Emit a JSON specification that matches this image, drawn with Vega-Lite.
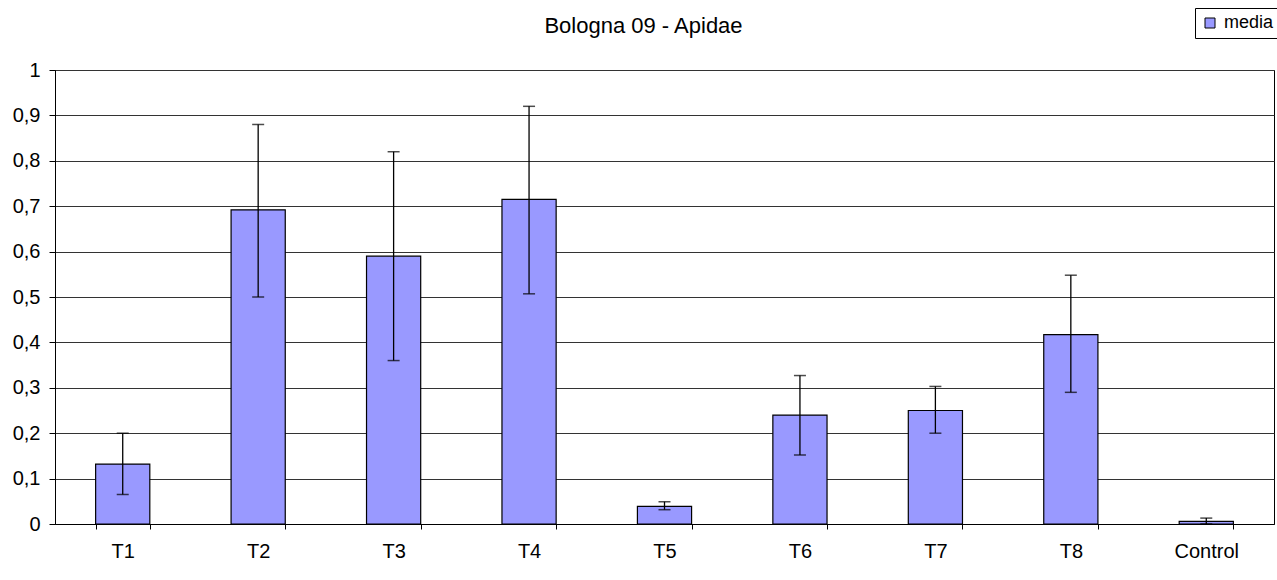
{
  "$schema": "https://vega.github.io/schema/vega-lite/v6.json",
  "width": 1219,
  "height": 454,
  "autosize": {"type": "none"},
  "padding": {"left": 55, "top": 70, "right": 3, "bottom": 56},
  "background": "white",
  "title": {
    "text": "Bologna 09 - Apidae",
    "font": "Liberation Sans",
    "fontSize": 22,
    "fontWeight": "normal",
    "color": "black",
    "anchor": "middle",
    "baseline": "alphabetic",
    "dx": -21,
    "dy": 47,
    "offset": 0
  },
  "config": {
    "view": {"stroke": "black", "strokeWidth": 1},
    "font": "Liberation Sans",
    "axis": {
      "labelFont": "Liberation Sans",
      "labelFontSize": 20,
      "labelColor": "black",
      "domainColor": "black",
      "tickColor": "black",
      "title": null
    }
  },
  "data": {
    "values": [
      {"cat": "T1", "media": 0.132, "lo": 0.065, "hi": 0.2, "serie": "media"},
      {"cat": "T2", "media": 0.692, "lo": 0.5, "hi": 0.88, "serie": "media"},
      {"cat": "T3", "media": 0.59, "lo": 0.36, "hi": 0.82, "serie": "media"},
      {"cat": "T4", "media": 0.715, "lo": 0.507, "hi": 0.92, "serie": "media"},
      {"cat": "T5", "media": 0.039, "lo": 0.0315, "hi": 0.049, "serie": "media"},
      {"cat": "T6", "media": 0.24, "lo": 0.152, "hi": 0.327, "serie": "media"},
      {"cat": "T7", "media": 0.25, "lo": 0.2, "hi": 0.303, "serie": "media"},
      {"cat": "T8", "media": 0.417, "lo": 0.29, "hi": 0.548, "serie": "media"},
      {"cat": "Control", "media": 0.006, "lo": 0.0, "hi": 0.013, "serie": "media"}
    ]
  },
  "encoding": {
    "x": {
      "field": "cat",
      "type": "nominal",
      "sort": null,
      "scale": {"paddingInner": 0.6, "paddingOuter": 0.3},
      "axis": {
        "labelAngle": 0,
        "tickBand": "extent",
        "tickSize": 5,
        "labelPadding": 12,
        "domainColor": "black",
        "grid": false
      }
    }
  },
  "layer": [
    {
      "mark": {"type": "bar", "stroke": "black", "strokeWidth": 1.2},
      "encoding": {
        "y": {
          "field": "media",
          "type": "quantitative",
          "scale": {"domain": [0, 1], "nice": false},
          "axis": {
            "values": [0, 0.1, 0.2, 0.3, 0.4, 0.5, 0.6, 0.7, 0.8, 0.9, 1],
            "labelExpr": "replace(format(datum.value, '~g'), '.', ',')",
            "tickSize": 6,
            "labelPadding": 9,
            "grid": true,
            "gridColor": "#333333",
            "gridWidth": 1
          }
        },
        "color": {
          "field": "serie",
          "type": "nominal",
          "scale": {"range": ["#9999FF"]},
          "legend": {
            "title": null,
            "orient": "none",
            "legendX": 1140,
            "legendY": -62,
            "symbolType": "square",
            "symbolSize": 100,
            "symbolStrokeColor": "black",
            "symbolStrokeWidth": 1,
            "labelFont": "Liberation Sans",
            "labelFontSize": 18,
            "labelColor": "black",
            "labelOffset": 5,
            "strokeColor": "black",
            "padding": 6,
            "fillColor": "white"
          }
        }
      }
    },
    {
      "mark": {"type": "rule", "color": "black", "strokeWidth": 1.3},
      "encoding": {
        "y": {"field": "lo", "type": "quantitative"},
        "y2": {"field": "hi"}
      }
    },
    {
      "mark": {"type": "tick", "color": "black", "size": 12, "thickness": 1.5},
      "encoding": {"y": {"field": "lo", "type": "quantitative"}}
    },
    {
      "mark": {"type": "tick", "color": "black", "size": 12, "thickness": 1.5},
      "encoding": {"y": {"field": "hi", "type": "quantitative"}}
    }
  ]
}
